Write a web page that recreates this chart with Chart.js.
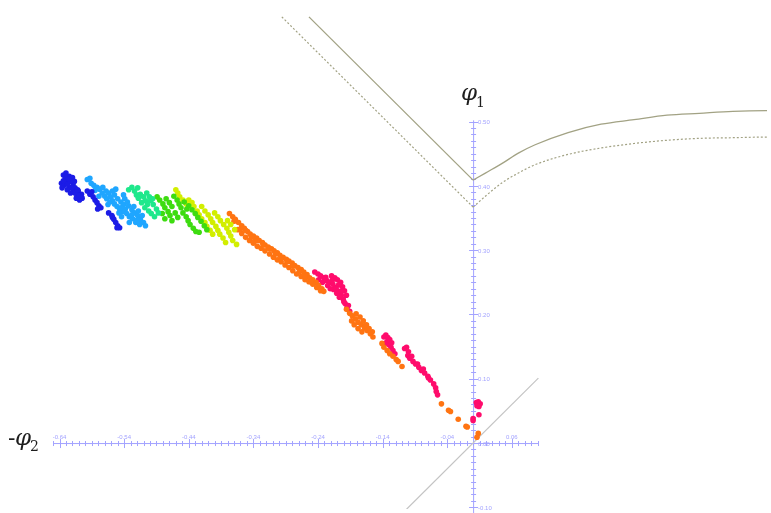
<!DOCTYPE html>
<html>
<head>
<meta charset="utf-8">
<script src="https://cdn.jsdelivr.net/npm/chart.js@4/dist/chart.umd.min.js"></script>
<style>
html,body{margin:0;padding:0;background:#fff;}
#wrap{position:relative;width:771px;height:513px;}
canvas{display:block;}
</style>
</head>
<body>
<div id="wrap"><canvas id="c" width="771" height="513"></canvas></div>
<script>
// ---------- tick labels ----------
const xTickValues = [-0.64,-0.54,-0.44,-0.34,-0.24,-0.14,-0.04,0.06];
const xTickLabels = ['-0.64','-0.54','-0.44','-0.34','-0.24','-0.14','-0.04','0.06'];
const yTickValues = [0.50,0.40,0.30,0.20,0.10,0.00,-0.10];
const yTickLabels = ['0.50','0.40','0.30','0.20','0.10','0.00','-0.10'];
const xAxisSpan = [-0.649, 0.101];
const yAxisSpan = [-0.11, 0.502];

// ---------- boundary curves ----------
const solidLeft  = [[-0.254,0.663],[0,0.409]];
const solidRight = [[0,0.409],[0.019,0.420],[0.045,0.435],[0.070,0.451],[0.096,0.464],[0.147,0.483],[0.198,0.496],[0.249,0.503],[0.300,0.510],[0.350,0.513],[0.402,0.516],[0.453,0.517],[0.46,0.517]];
const dottedLeft  = [[-0.296,0.663],[0,0.367]];
const dottedRight = [[0,0.367],[0.019,0.384],[0.045,0.405],[0.070,0.420],[0.096,0.433],[0.147,0.449],[0.198,0.459],[0.249,0.466],[0.300,0.471],[0.350,0.474],[0.402,0.475],[0.453,0.476],[0.46,0.476]];
const diagonal = [[-0.103,-0.103],[0.101,0.101]];

// ---------- scatter clusters ----------
const bluePts = [[-0.634,0.417],[-0.630,0.420],[-0.625,0.415],[-0.631,0.410],[-0.637,0.404],[-0.633,0.401],[-0.627,0.406],[-0.622,0.410],[-0.619,0.403],[-0.625,0.397],[-0.616,0.397],[-0.611,0.392],[-0.606,0.387],[-0.613,0.386],[-0.619,0.391],[-0.605,0.381],[-0.609,0.378],[-0.614,0.381],[-0.628,0.394],[-0.620,0.413],[-0.617,0.407],[-0.636,0.397],[-0.623,0.389],[-0.628,0.403],[-0.623,0.407],[-0.616,0.389],[-0.631,0.415],[-0.626,0.411],[-0.612,0.394],[-0.609,0.385],[-0.634,0.408],[-0.621,0.398],
[-0.597,0.392],[-0.593,0.387],[-0.588,0.383],[-0.585,0.378],[-0.582,0.374],[-0.579,0.369],[-0.576,0.366],[-0.581,0.364],[-0.590,0.391],
[-0.564,0.358],[-0.559,0.354],[-0.556,0.348],[-0.553,0.343],[-0.550,0.338],[-0.547,0.335],[-0.551,0.335],[-0.558,0.351]];
const lightBluePts = [[-0.597,0.410],[-0.593,0.412],[-0.591,0.404],[-0.587,0.401],[-0.582,0.398],[-0.578,0.395],[-0.574,0.389],[-0.570,0.384],[-0.567,0.380],[-0.568,0.392],[-0.564,0.389],[-0.573,0.398],[-0.561,0.383],[-0.558,0.377],[-0.555,0.372],[-0.551,0.368],[-0.547,0.364],[-0.550,0.380],[-0.545,0.375],[-0.541,0.371],[-0.538,0.364],[-0.542,0.360],[-0.536,0.357],[-0.532,0.352],[-0.527,0.349],[-0.533,0.369],[-0.528,0.363],[-0.524,0.358],[-0.519,0.354],[-0.515,0.348],[-0.510,0.343],[-0.507,0.338],[-0.522,0.343],[-0.516,0.340],[-0.539,0.380],[-0.535,0.375],[-0.555,0.386],[-0.548,0.358],[-0.565,0.371],[-0.544,0.352],[-0.525,0.368],[-0.518,0.361],[-0.512,0.354],[-0.558,0.392],[-0.579,0.384],[-0.532,0.343],[-0.585,0.393],[-0.562,0.375],[-0.545,0.366],[-0.528,0.355],[-0.520,0.347],[-0.541,0.386],[-0.553,0.395]];
const cyanGreenPts = [[-0.533,0.394],[-0.528,0.398],[-0.524,0.392],[-0.521,0.386],[-0.518,0.381],[-0.515,0.387],[-0.510,0.383],[-0.507,0.377],[-0.504,0.371],[-0.513,0.374],[-0.508,0.366],[-0.502,0.361],[-0.498,0.357],[-0.493,0.352],[-0.499,0.377],[-0.495,0.371],[-0.490,0.364],[-0.487,0.358],[-0.519,0.397],[-0.505,0.389],[-0.501,0.383],[-0.496,0.380]];
const greenPts = [[-0.489,0.383],[-0.485,0.378],[-0.480,0.372],[-0.477,0.366],[-0.472,0.360],[-0.469,0.354],[-0.475,0.380],[-0.470,0.374],[-0.466,0.368],[-0.463,0.384],[-0.458,0.378],[-0.455,0.372],[-0.452,0.366],[-0.449,0.358],[-0.444,0.352],[-0.441,0.346],[-0.461,0.358],[-0.457,0.351],[-0.481,0.357],[-0.477,0.349],[-0.438,0.340],[-0.433,0.334],[-0.429,0.329],[-0.440,0.369],[-0.435,0.363],[-0.430,0.357],[-0.426,0.351],[-0.421,0.345],[-0.416,0.338],[-0.412,0.332],[-0.447,0.375],[-0.443,0.364],[-0.466,0.346],[-0.424,0.328]];
const yellowPts = [[-0.460,0.394],[-0.457,0.389],[-0.454,0.383],[-0.449,0.378],[-0.444,0.372],[-0.440,0.378],[-0.435,0.374],[-0.432,0.368],[-0.427,0.361],[-0.424,0.355],[-0.420,0.349],[-0.415,0.343],[-0.412,0.337],[-0.420,0.368],[-0.415,0.361],[-0.410,0.355],[-0.406,0.349],[-0.403,0.343],[-0.398,0.337],[-0.395,0.331],[-0.400,0.358],[-0.395,0.352],[-0.391,0.346],[-0.386,0.340],[-0.381,0.334],[-0.378,0.328],[-0.375,0.322],[-0.372,0.315],[-0.392,0.325],[-0.387,0.319],[-0.383,0.312],[-0.407,0.331],[-0.403,0.325],[-0.380,0.346],[-0.375,0.340],[-0.369,0.332],[-0.366,0.309]];
const orangePts = [[-0.377,0.357],[-0.372,0.352],[-0.368,0.348],[-0.363,0.343],[-0.358,0.338],[-0.354,0.334],[-0.349,0.329],[-0.345,0.325],[-0.340,0.322],[-0.335,0.319],[-0.331,0.315],[-0.326,0.312],[-0.322,0.308],[-0.317,0.305],[-0.312,0.302],[-0.308,0.299],[-0.303,0.296],[-0.299,0.292],[-0.294,0.289],[-0.289,0.286],[-0.285,0.283],[-0.280,0.280],[-0.276,0.276],[-0.271,0.273],[-0.266,0.270],[-0.262,0.266],[-0.257,0.262],[-0.253,0.257],[-0.248,0.254],[-0.243,0.250],[-0.239,0.245],[-0.234,0.240],
[-0.364,0.332],[-0.358,0.326],[-0.352,0.320],[-0.346,0.315],[-0.340,0.311],[-0.334,0.306],[-0.328,0.303],[-0.322,0.299],[-0.315,0.294],[-0.309,0.289],[-0.303,0.285],[-0.297,0.282],[-0.291,0.277],[-0.285,0.273],[-0.279,0.268],[-0.273,0.263],[-0.266,0.259],[-0.260,0.254],[-0.254,0.251],[-0.248,0.247],[-0.242,0.242],[-0.236,0.237],[-0.231,0.236],
[-0.352,0.331],[-0.334,0.315],[-0.315,0.302],[-0.297,0.288],[-0.279,0.276],[-0.260,0.260],[-0.325,0.309],[-0.306,0.294],[-0.288,0.282],[-0.269,0.266],[-0.251,0.251],[-0.343,0.320],[-0.370,0.345],[-0.360,0.333],[-0.338,0.314],
[-0.196,0.208],[-0.191,0.202],[-0.187,0.198],[-0.182,0.193],[-0.178,0.188],[-0.173,0.184],[-0.168,0.179],[-0.164,0.175],[-0.159,0.170],[-0.155,0.165],[-0.181,0.201],[-0.175,0.196],[-0.170,0.190],[-0.165,0.184],[-0.161,0.178],[-0.188,0.190],[-0.184,0.184],[-0.178,0.178],[-0.172,0.173],[-0.156,0.173],
[-0.141,0.155],[-0.138,0.149],[-0.133,0.144],[-0.129,0.139],[-0.124,0.135],[-0.119,0.130],[-0.116,0.127],[-0.110,0.119],
[-0.049,0.061],[-0.038,0.051],[-0.035,0.049],[-0.023,0.037],[-0.011,0.026],[-0.009,0.025],
[0.008,0.015],[0.006,0.009]];
const magentaPts = [[-0.245,0.266],[-0.240,0.263],[-0.236,0.260],[-0.231,0.257],[-0.227,0.253],[-0.222,0.250],[-0.217,0.247],[-0.213,0.242],[-0.208,0.236],[-0.204,0.230],[-0.201,0.224],[-0.198,0.217],[-0.195,0.211],[-0.191,0.205],[-0.219,0.260],[-0.214,0.257],[-0.210,0.254],[-0.205,0.250],[-0.202,0.243],[-0.199,0.237],[-0.216,0.239],[-0.211,0.233],[-0.207,0.227],[-0.225,0.245],[-0.221,0.240],[-0.196,0.230],[-0.239,0.254],[-0.233,0.250],[-0.228,0.258],[-0.218,0.253],[-0.208,0.246],[-0.203,0.237],[-0.212,0.240],[-0.200,0.220],[-0.193,0.214],
[-0.138,0.165],[-0.135,0.168],[-0.132,0.164],[-0.133,0.158],[-0.130,0.153],[-0.127,0.149],[-0.124,0.144],[-0.121,0.139],[-0.136,0.155],[-0.129,0.161],[-0.126,0.156],
[-0.106,0.147],[-0.103,0.149],[-0.100,0.142],[-0.101,0.136],[-0.098,0.132],[-0.093,0.127],[-0.089,0.123],[-0.084,0.118],[-0.080,0.113],[-0.075,0.109],[-0.070,0.104],[-0.066,0.098],[-0.061,0.092],[-0.058,0.086],[-0.057,0.080],[-0.055,0.075],[-0.095,0.135],[-0.086,0.123],[-0.077,0.115],[-0.069,0.101],
[0.005,0.063],[0.008,0.064],[0.011,0.061],[0.009,0.057],[0.006,0.058],[0.009,0.044],[0.000,0.038],[0.000,0.035]];

const toXY = a => a.map(p => ({x:p[0], y:p[1]}));
const AXIS_COLOR = '#a3a3ff';
const LINE_COLOR = '#a2a284';

function lineDs(pts, dashed, curved, color, width){
  return {type:'line', data:toXY(pts), showLine:true, pointRadius:0, borderColor:color, borderWidth:width,
    borderDash: dashed ? [2,2] : [], fill:false, cubicInterpolationMode: curved ? 'monotone' : 'default', tension:0, order:5};
}
function dotDs(pts, color){
  return {type:'scatter', data:toXY(pts), pointRadius:2.8, pointBackgroundColor:color, pointBorderWidth:0, borderColor:color, showLine:false, order:1};
}

const axesPlugin = {
  id:'centerAxes',
  beforeDatasetsDraw(chart){
    const ctx = chart.ctx, xs = chart.scales.x, ys = chart.scales.y;
    const ox = xs.getPixelForValue(0), oy = ys.getPixelForValue(0);
    ctx.save();
    ctx.strokeStyle = AXIS_COLOR; ctx.fillStyle = AXIS_COLOR; ctx.lineWidth = 1;
    ctx.beginPath();
    ctx.moveTo(xs.getPixelForValue(xAxisSpan[0]), oy+0.5);
    ctx.lineTo(xs.getPixelForValue(xAxisSpan[1]), oy+0.5);
    for (let i=-65;i<=10;i++){
      const px = Math.round(xs.getPixelForValue(i/100))+0.5;
      ctx.moveTo(px, oy-2); ctx.lineTo(px, oy+3);
    }
    xTickValues.forEach(v=>{ const px=Math.round(xs.getPixelForValue(v))+0.5; ctx.moveTo(px,oy-4); ctx.lineTo(px,oy+5); });
    ctx.moveTo(ox+0.5, ys.getPixelForValue(yAxisSpan[1]));
    ctx.lineTo(ox+0.5, ys.getPixelForValue(yAxisSpan[0]));
    for (let i=-11;i<=50;i++){
      const py = Math.round(ys.getPixelForValue(i/100))+0.5;
      ctx.moveTo(ox-2, py); ctx.lineTo(ox+3, py);
    }
    yTickValues.forEach(v=>{ const py=Math.round(ys.getPixelForValue(v))+0.5; ctx.moveTo(ox-4,py); ctx.lineTo(ox+5,py); });
    ctx.stroke();
    ctx.font = '6px "Liberation Sans", Arial, sans-serif';
    ctx.textAlign='center'; ctx.textBaseline='alphabetic';
    xTickValues.forEach((v,i)=>{ ctx.fillText(xTickLabels[i], xs.getPixelForValue(v), oy-4); });
    ctx.textAlign='left'; ctx.textBaseline='middle';
    yTickValues.forEach((v,i)=>{ ctx.fillText(yTickLabels[i], ox+5, ys.getPixelForValue(v)+1); });
    ctx.restore();
  },
  afterDraw(chart){
    const ctx = chart.ctx, xs = chart.scales.x, ys = chart.scales.y;
    const ox = xs.getPixelForValue(0), oy = ys.getPixelForValue(0);
    ctx.save();
    ctx.fillStyle = '#1e1e1e';
    ctx.textBaseline = 'alphabetic'; ctx.textAlign='left';
    ctx.font = 'italic 23px "DejaVu Serif", serif';
    ctx.fillText('φ', ox-12, ys.getPixelForValue(0.533));
    ctx.font = '14px "DejaVu Serif", serif';
    ctx.fillText('1', ox+3, ys.getPixelForValue(0.523));
    ctx.font = '22px "DejaVu Serif", serif';
    ctx.fillText('-', 8, oy+2);
    ctx.font = 'italic 23px "DejaVu Serif", serif';
    ctx.fillText('φ', 15, oy+2);
    ctx.font = '14px "DejaVu Serif", serif';
    ctx.fillText('2', 30, oy+8);
    ctx.restore();
  }
};

new Chart(document.getElementById('c'), {
  type:'scatter',
  data:{datasets:[
    lineDs(diagonal,false,false,'#c4c4c4',1.2),
    lineDs(solidLeft,false,false,LINE_COLOR,1.3),
    lineDs(solidRight,false,true,LINE_COLOR,1.3),
    lineDs(dottedLeft,true,false,LINE_COLOR,1.2),
    lineDs(dottedRight,true,true,LINE_COLOR,1.2),
    dotDs(bluePts,'#1c1ce6'),
    dotDs(lightBluePts,'#1fa6ff'),
    dotDs(cyanGreenPts,'#1ee88c'),
    dotDs(greenPts,'#3ddc10'),
    dotDs(yellowPts,'#d2ee00'),
    dotDs(orangePts,'#ff7412'),
    dotDs(magentaPts,'#ff0c6c')
  ]},
  options:{
    responsive:false, animation:false, devicePixelRatio:1,
    layout:{padding:0},
    plugins:{legend:{display:false}, tooltip:{enabled:false}},
    scales:{
      x:{type:'linear', display:false, min:-0.7259, max:0.4548},
      y:{type:'linear', display:false, min:-0.1026, max:0.6830}
    }
  },
  plugins:[axesPlugin]
});
</script>
</body>
</html>
